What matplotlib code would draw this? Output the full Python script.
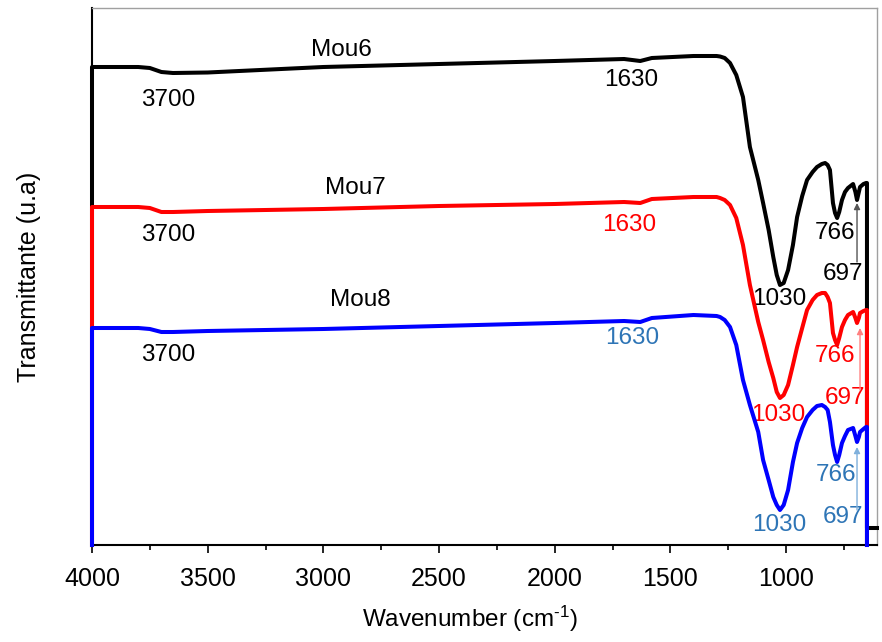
import numpy as np
import matplotlib
matplotlib.use("Agg")
import matplotlib.pyplot as plt

plt.rcParams['font.family'] = ['Liberation Sans', 'DejaVu Sans']
plt.rcParams['mathtext.fontset'] = 'custom'
plt.rcParams['mathtext.rm'] = 'Liberation Sans'
plt.rcParams['mathtext.it'] = 'Liberation Sans:italic'

# ---- data (wavenumber, cm-1) ----
wavenumber = [4000, 3800, 3750, 3700, 3650, 3500, 3000, 2500, 2000, 1700, 1630, 1580,
              1400, 1300, 1285, 1265, 1242, 1215, 1186, 1156, 1120, 1099, 1075, 1055,
              1040, 1026, 1010, 991, 970, 952, 930, 909, 885, 866, 845, 831, 820, 810,
              797, 788, 779, 770, 758, 745, 732, 710, 700, 693, 685, 680, 665, 654]

mou6 = [478, 478, 477, 473, 472, 472.5, 478, 481, 484, 486, 484, 487,
        489, 489, 488.5, 487, 482, 470, 448, 398, 365, 342, 315, 288,
        270, 260, 262, 275, 300, 328, 349, 365, 373, 378, 381, 382, 380, 375,
        342, 332, 327, 333, 345, 353, 357, 361, 353, 345, 353, 358, 361, 362]

mou7 = [338, 338, 337, 333, 333, 334, 336, 339, 341, 343, 342, 346,
        348, 348, 347, 345, 340, 327, 300, 260, 223, 205, 183, 167,
        153, 147, 150, 160, 180, 198, 217, 235, 245, 250, 252, 252, 248, 242,
        212, 205, 200, 207, 218, 225, 230, 233, 227, 222, 227, 232, 234, 235]

mou8 = [217, 217, 216, 213, 213, 214, 216, 219, 222, 224, 223, 227,
        230, 229, 228, 225, 218, 200, 165, 140, 113, 85, 65, 48,
        40, 35, 40, 55, 83, 102, 117, 128, 135, 139, 140, 138, 135, 123,
        100, 90, 83, 90, 102, 109, 115, 117, 109, 103, 108, 113, 116, 118]

series_names = ["Mou6", "Mou7", "Mou8"]
line_colors = ["black", "#ff0000", "#0000ff"]
peak_colors = ["black", "#ff0000", "#2e75b6"]
arrow_colors = ["#555555", "#ff8080", "#7fb0dc"]

x_ticks = [4000, 3500, 3000, 2500, 2000, 1500, 1000]
end_wavenumber = 650
black_tail = 17  # small closing step of the top spectrum

# ---- layout (positions of labels, in data coords) ----
name_pos = [(2924, 495), (2863, 357), (2841, 245)]
lbl3700 = [(3671, 445), (3671, 310), (3671, 190)]
lbl1630 = [(1670, 465), (1679, 320), (1666, 207)]
lbl766 = [(788, 312), (788, 189), (784, 70)]
lbl697 = [(754, 271), (745, 147), (754, 28)]
lbl1030 = [(1030, 246), (1035, 130), (1030, 20)]
arrows = [(693, 283, 342), (680, 155, 217), (693, 35, 98)]

fig = plt.figure(figsize=(8.82, 6.42), dpi=100)
ax = fig.add_axes([92/882, 1 - 545/642, 785/882, 537/642])

ymin, ymax = 0, 537
ax.set_xlim(4000, 4000 - 785 * 3000 / 694)
ax.set_ylim(ymin, ymax)

w = np.array(wavenumber, dtype=float)
for i, (vals, col) in enumerate(zip([mou6, mou7, mou8], line_colors)):
    v = np.array(vals, dtype=float)
    xs = np.r_[w[0], w, end_wavenumber, end_wavenumber]
    ys = np.r_[ymin, v, v[-1], ymin]
    if i == 0:
        xs = np.r_[w[0], w, end_wavenumber, end_wavenumber, ax.get_xlim()[1]]
        ys = np.r_[ymin, v, v[-1], black_tail, black_tail]
    ax.plot(xs, ys, color=col, lw=2.9, solid_joinstyle='round', clip_on=False, zorder=3 + i)

fs = 17.5
for i in range(3):
    ax.text(*name_pos[i], series_names[i], fontsize=fs, color='black', ha='center', va='center')
    ax.text(*lbl3700[i], "3700", fontsize=fs, color='black', ha='center', va='center')
    ax.text(*lbl1630[i], "1630", fontsize=fs, color=peak_colors[i], ha='center', va='center')
    ax.text(*lbl766[i], "766", fontsize=fs, color=peak_colors[i], ha='center', va='center')
    ax.text(*lbl697[i], "697", fontsize=fs, color=peak_colors[i], ha='center', va='center')
    ax.text(*lbl1030[i], "1030", fontsize=fs, color=peak_colors[i], ha='center', va='center')
    ax_x, y0, y1 = arrows[i]
    ax.annotate("", xy=(ax_x, y1), xytext=(ax_x, y0),
                arrowprops=dict(arrowstyle='-|>', color=arrow_colors[i], lw=1.0,
                                mutation_scale=9, shrinkA=0, shrinkB=0), zorder=6)

ax.set_xticks(x_ticks)
ax.set_xticks([3750, 3250, 2750, 2250, 1750, 1250, 750], minor=True)
ax.set_yticks([])
ax.tick_params(axis='x', which='major', direction='out', length=6, width=1.2, labelsize=18, pad=10)
ax.tick_params(axis='x', which='minor', direction='out', length=3.5, width=1.2)
for s in ['top', 'right']:
    ax.spines[s].set_color('#a0a0a0')
    ax.spines[s].set_linewidth(1.0)
for s in ['left', 'bottom']:
    ax.spines[s].set_color('black')
    ax.spines[s].set_linewidth(1.5)

ax.set_xlabel(r"Wavenumber (cm$^{\text{-}1}$)", fontsize=17.5, labelpad=11)
ax.xaxis.set_label_coords((470 - 92) / 785, -0.137)
ax.xaxis.label.set_va('center')
ax.set_ylabel("Transmittante (u.a)", fontsize=18, labelpad=37)

fig.savefig("out.png", dpi=100)
